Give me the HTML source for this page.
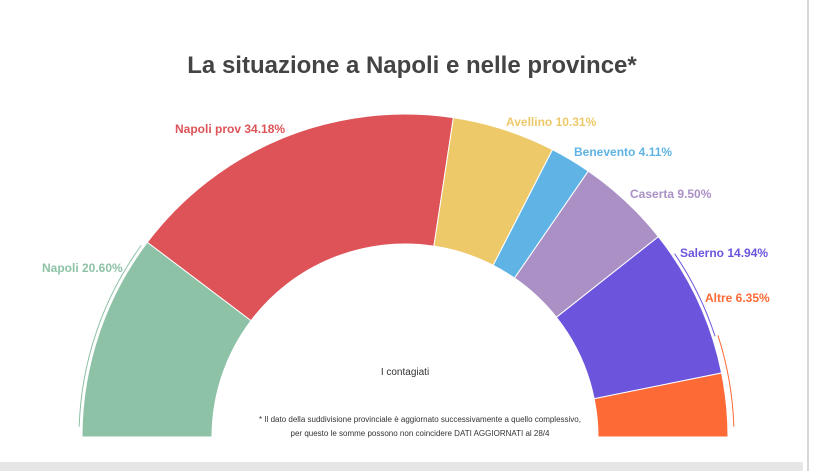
<!DOCTYPE html>
<html><head><meta charset="utf-8"><style>
body{margin:0;width:816px;height:471px;background:#fff;overflow:hidden;font-family:"Liberation Sans",sans-serif;}
</style></head><body>
<svg width="816" height="471" xmlns="http://www.w3.org/2000/svg" id="s">
<rect x="0" y="462" width="803" height="9" fill="#e6e6e6"/>
<rect x="807" y="0" width="2" height="471" fill="#d8d8d8"/>
<text x="412" y="73" text-anchor="middle" font-size="24" font-weight="bold" fill="#444">La situazione a Napoli e nelle province*</text>
<g id="arcs"></g>
<g font-size="12" font-weight="bold">
<text x="42" y="272" fill="#8dc2a6">Napoli 20.60%</text>
<text x="175" y="133" fill="#dd5357">Napoli prov 34.18%</text>
<text x="506" y="126" fill="#eec96a">Avellino 10.31%</text>
<text x="574" y="156" fill="#5fb4e5">Benevento 4.11%</text>
<text x="630" y="198" fill="#ab90c6">Caserta 9.50%</text>
<text x="680" y="257" fill="#6d54dc">Salerno 14.94%</text>
<text x="705" y="302" fill="#fe6a36">Altre 6.35%</text>
</g>
<text x="405" y="375" text-anchor="middle" font-size="10" fill="#333">I contagiati</text>
<text x="420" y="422" text-anchor="middle" font-size="8" fill="#333">* Il dato della suddivisione provinciale è aggiornato successivamente a quello complessivo,</text>
<text x="420" y="436" text-anchor="middle" font-size="8" fill="#333">per questo le somme possono non coincidere DATI AGGIORNATI al 28/4</text>
</svg>
<script>
var d=[[20.6,"#8dc2a6"],[34.18,"#dd5357"],[10.31,"#eec96a"],[4.11,"#5fb4e5"],[9.5,"#ab90c6"],[14.94,"#6d54dc"],[6.35,"#fe6a36"]];
var cx=405,cy=437,R=323,r=193,a=Math.PI,h="";
function p(rad,t){return (cx+rad*Math.cos(t)).toFixed(2)+","+(cy-rad*Math.sin(t)).toFixed(2);}
d.forEach(function(e){var b=a-e[0]/99.99*Math.PI;
h+='<path d="M'+p(r,a)+' L'+p(R,a)+' A'+R+','+R+' 0 0 1 '+p(R,b)+' L'+p(r,b)+' A'+r+','+r+' 0 0 0 '+p(r,a)+'Z" fill="'+e[1]+'" stroke="#fff" stroke-width="1"/>';a=b;});
h+='<path d="M'+p(R+3,Math.PI*0.99)+' A'+(R+3)+','+(R+3)+' 0 0 1 '+p(R+3,Math.PI*0.8)+'" fill="none" stroke="#8dc2a6" stroke-width="1"/>';
h+='<path d="M'+p(R+3,Math.PI*0.19)+' A'+(R+3)+','+(R+3)+' 0 0 1 '+p(R+3,Math.PI*0.1)+'" fill="none" stroke="#6d54dc" stroke-width="1"/>';
h+='<path d="M'+p(R+6,Math.PI*0.1)+' A'+(R+6)+','+(R+6)+' 0 0 1 '+p(R+6,Math.PI*0.01)+'" fill="none" stroke="#fe6a36" stroke-width="1"/>';
document.getElementById("arcs").innerHTML=h;
</script>
</body></html>
